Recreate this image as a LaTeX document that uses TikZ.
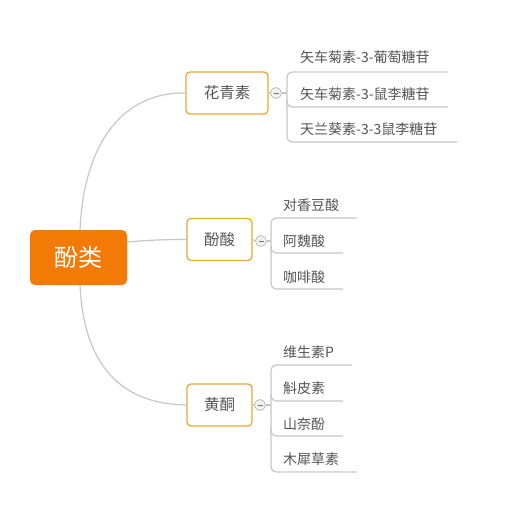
\documentclass[tikz,border=0pt]{standalone}
\usepackage{fontspec}
\setmainfont{Noto Sans CJK SC}
\begin{document}
\begin{tikzpicture}[x=1pt,y=-1pt,
  line/.style={draw=black!22,line width=1.2pt},
  rootbox/.style={draw=none, rounded corners=5pt, minimum width=97pt, minimum height=55pt, text=white, font=\fontsize{24}{28}\selectfont},
  branch/.style={draw=myGold, line width=1.3pt, fill=white, rounded corners=4pt, minimum height=42pt, text=myText, font=\fontsize{15.5}{18}\selectfont, inner sep=0pt},
  leaf/.style={text=myText, font=\fontsize{14}{16}\selectfont, anchor=west, inner sep=0pt},
  collapse/.style={circle, draw=black!30, fill=black!6, line width=0.6pt, minimum size=11pt, inner sep=0pt},
  bracket/.style={draw=black!22, line width=1.2pt, rounded corners=5pt}
]
\definecolor{myGold}{HTML}{E8A838}
\definecolor{myText}{HTML}{555555}
\definecolor{myOrange}{HTML}{F27A05}
\useasboundingbox (0,0) rectangle (521,516);
\fill[white] (0,0) rectangle (521,516);

% root
\node[rootbox, fill=myOrange] (root) at (78.5,257.5) {酚类};

% branches
\node[branch, minimum width=82pt] (b1) at (227,93) {花青素};
\node[branch, minimum width=65pt] (b2) at (219.5,239.5) {酚酸};
\node[branch, minimum width=65pt] (b3) at (219.5,405) {黄酮};

% main connectors
\coordinate (rt) at (80,230);
\coordinate (rb) at (80,285);
\draw[line] (rt) .. controls (84,140) and (125,92) .. (b1.west);
\draw[line] (root.east |- 0,242) .. controls (150,240) and (165,239.5) .. (b2.west);
\draw[line] (rb) .. controls (84,370) and (125,404) .. (b3.west);

% collapse buttons
\node[collapse] (c1) at (276,93) {};
\node[collapse] (c2) at (261,241) {};
\node[collapse] (c3) at (260,405) {};
\foreach \c in {c1,c2,c3}{
  \draw[black!55, line width=0.9pt] ([xshift=-2.5pt]\c.center) -- ([xshift=2.5pt]\c.center);
}
\draw[line] (b1.east) -- (c1.west);
\draw[line] (b2.east) -- (c2.west);
\draw[line] (b3.east) -- (c3.west);

% branch 1 leaves
\node[leaf] (l11) at (300,57) {矢车菊素-3-葡萄糖苷};
\node[leaf] (l12) at (300,94) {矢车菊素-3-鼠李糖苷};
\node[leaf] (l13) at (300,129) {天兰葵素-3-3鼠李糖苷};
\coordinate (e11) at (448,72);
\coordinate (e12) at (448,107);
\coordinate (e13) at (457,142);
\draw[bracket] (e11) -- (287,72) -- (287,142) -- (e13);
\draw[bracket] (287,100) -- (287,107) -- (e12);
\draw[line] (c1.east) -- (287,93);

% branch 2 leaves
\node[leaf] (l21) at (283,205) {对香豆酸};
\node[leaf] (l22) at (283,241) {阿魏酸};
\node[leaf] (l23) at (283,277) {咖啡酸};
\coordinate (e21) at (357,218);
\coordinate (e22) at (343,253);
\coordinate (e23) at (343,289);
\draw[bracket] (e21) -- (271,218) -- (271,289) -- (e23);
\draw[bracket] (271,246) -- (271,253) -- (e22);
\draw[line] (c2.east) -- (271,241);

% branch 3 leaves
\node[leaf] (l31) at (283,352) {维生素P};
\node[leaf] (l32) at (283,388) {斛皮素};
\node[leaf] (l33) at (283,424) {山奈酚};
\node[leaf] (l34) at (283,459) {木犀草素};
\coordinate (e31) at (352,365);
\coordinate (e32) at (343,401);
\coordinate (e33) at (343,436);
\coordinate (e34) at (357,472);
\draw[bracket] (e31) -- (271,365) -- (271,472) -- (e34);
\draw[bracket] (271,394) -- (271,401) -- (e32);
\draw[bracket] (271,429) -- (271,436) -- (e33);
\draw[line] (c3.east) -- (271,405);
\end{tikzpicture}
\end{document}
